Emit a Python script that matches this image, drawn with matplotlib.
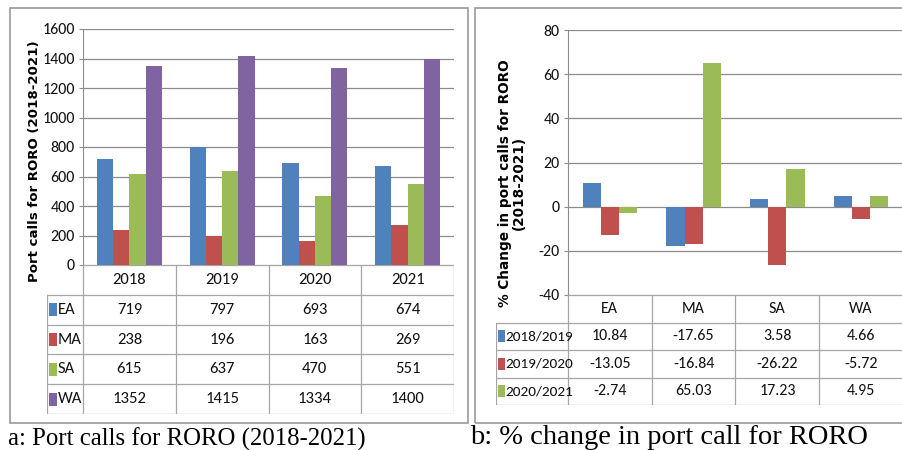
import matplotlib.pyplot as plt
import numpy as np
from matplotlib.patches import Rectangle

# data
years = ["2018", "2019", "2020", "2021"]
regions = ["EA", "MA", "SA", "WA"]
calls_EA = [719, 797, 693, 674]
calls_MA = [238, 196, 163, 269]
calls_SA = [615, 637, 470, 551]
calls_WA = [1352, 1415, 1334, 1400]
periods = ["2018/2019", "2019/2020", "2020/2021"]
chg_1819 = [10.84, -17.65, 3.58, 4.66]
chg_1920 = [-13.05, -16.84, -26.22, -5.72]
chg_2021 = [-2.74, 65.03, 17.23, 4.95]

colors = ["#4F81BD", "#C0504D", "#9BBB59", "#8064A2"]
narrow = ["Carlito", "Archivo Narrow", "DejaVu Sans"]
txt_c = "#111111"
grid_c = "#8c8c8c"
W, H = 903, 450


def fx(px):
    return px / W


def fy(py):
    return 1 - py / H


fig = plt.figure(figsize=(9.03, 4.5), dpi=100)

# panel borders
for x0, x1 in [(10, 468), (475, 910)]:
    fig.patches.append(Rectangle((fx(x0), fy(423)), fx(x1 - x0), (423 - 8) / H,
                                 transform=fig.transFigure, fill=False,
                                 edgecolor="#9a9a9a", lw=1.2))


def bar_panel(rect, series, cats, ylim, yticks, width_total, fs):
    ax = fig.add_axes(rect)
    n = len(series)
    bw = width_total / n
    x = np.arange(len(cats))
    for i, s in enumerate(series):
        ax.bar(x - width_total / 2 + bw * (i + 0.5), s, bw, color=colors[i], zorder=3)
    ax.set_xlim(-0.5, len(cats) - 0.5)
    ax.set_ylim(*ylim)
    ax.set_yticks(yticks)
    ax.set_yticklabels([str(t) for t in yticks], family=narrow, fontsize=fs, color=txt_c)
    ax.set_xticks([])
    ax.grid(axis="y", color=grid_c, lw=0.9, zorder=0)
    for sp in ["top", "right", "bottom"]:
        ax.spines[sp].set_visible(False)
    ax.spines["left"].set_color(grid_c)
    ax.tick_params(axis="y", length=3, color=grid_c, pad=3)
    return ax


def table_panel(rect, cats, row_names, rows, label_w, fmt, fs, fs_lab):
    ax = fig.add_axes(rect)
    nc = len(cats)
    nr = len(rows) + 1
    x0 = -0.5 - label_w
    ax.set_xlim(x0, nc - 0.5)
    ax.set_ylim(nr, 0)
    ax.axis("off")
    lc = "#a6a6a6"
    # cell lines
    ax.plot([-0.5, nc - 0.5], [0, 0], color=lc, lw=0.9)
    for r in range(1, nr + 1):
        ax.plot([x0, nc - 0.5], [r, r], color=lc, lw=0.9)
    ax.plot([x0, x0], [1, nr], color=lc, lw=0.9)
    for c in range(nc + 1):
        ax.plot([c - 0.5, c - 0.5], [0, nr], color=lc, lw=0.9)
    for c, name in enumerate(cats):
        ax.text(c, 0.5, name, ha="center", va="center", family=narrow, fontsize=fs,
                color=txt_c)
    for r, (name, vals) in enumerate(zip(row_names, rows)):
        y = r + 1.5
        ax.add_patch(Rectangle((x0 + 0.025, y - 0.22), 0.085, 0.44, color=colors[r], lw=0))
        ax.text(x0 + 0.115, y, name, ha="left", va="center", family=narrow, fontsize=fs_lab,
                color=txt_c)
        for c, v in enumerate(vals):
            ax.text(c, y, fmt(v), ha="center", va="center", family=narrow, fontsize=fs,
                    color=txt_c)
    return ax


# left panel
ax1 = bar_panel([fx(83), fy(265), fx(454 - 83), (265 - 29) / H],
                [calls_EA, calls_MA, calls_SA, calls_WA], years,
                (0, 1600), list(range(0, 1601, 200)), 0.7, 11.5)
table_panel([fx(47), fy(414), fx(454 - 47), (414 - 265) / H], years, regions,
            [calls_EA, calls_MA, calls_SA, calls_WA], 36 / 92.75, lambda v: f"{v}",
            12, 12)
fig.text(fx(35), fy(161), "Port calls for RORO (2018-2021)", rotation=90,
         ha="center", va="center", fontsize=9.6, fontweight="bold", family="DejaVu Sans")
fig.text(fx(8), fy(439), "a: Port calls for RORO (2018-2021)", ha="left", va="center",
         fontsize=17.8, family="Liberation Serif")

# right panel
ax2 = bar_panel([fx(568), fy(295), fx(903 - 568), (295 - 30) / H],
                [chg_1819, chg_1920, chg_2021], regions,
                (-40, 80), list(range(-40, 81, 20)), 0.65, 11.5)
table_panel([fx(496), fy(405), fx(903 - 496), (405 - 295) / H], regions, periods,
            [chg_1819, chg_1920, chg_2021], 72 / 83.75, lambda v: f"{v:.2f}",
            11.5, 11)
fig.text(fx(512), fy(183), "% Change in port calls for RORO\n(2018-2021)", rotation=90,
         ha="center", va="center", fontsize=9.8, fontweight="bold", family="DejaVu Sans",
         linespacing=1.05)
fig.text(fx(470), fy(437), "b: % change in port call for RORO", ha="left", va="center",
         fontsize=20.5, family="Liberation Serif")

fig.savefig("out.png", dpi=100)
